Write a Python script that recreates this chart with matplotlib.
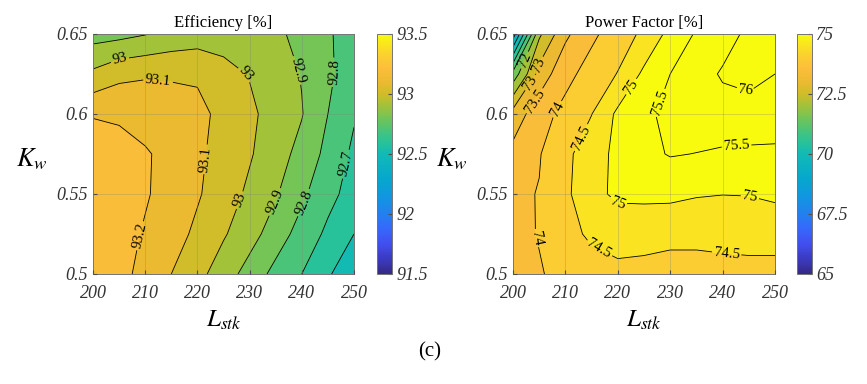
import numpy as np
import matplotlib
matplotlib.use('Agg')
import matplotlib.pyplot as plt
from matplotlib.colors import LinearSegmentedColormap, Normalize
from matplotlib.cm import ScalarMappable

plt.rcParams['font.family'] = ['Liberation Serif', 'DejaVu Serif']
plt.rcParams['mathtext.fontset'] = 'stix'

# grid of stack length and winding factor
L_stk = [200, 205, 210, 215, 220, 225, 230, 235, 240, 245, 250]
K_w = [0.5, 0.525, 0.55, 0.575, 0.6, 0.625, 0.65]

# efficiency [%], rows follow K_w, columns follow L_stk
eff = [
    [93.26, 93.23, 93.17, 93.10, 93.03, 92.95, 92.86, 92.77, 92.70, 92.61, 92.54],
    [93.27, 93.24, 93.19, 93.14, 93.08, 93.01, 92.94, 92.85, 92.76, 92.68, 92.60],
    [93.28, 93.25, 93.21, 93.16, 93.11, 93.05, 92.98, 92.91, 92.82, 92.73, 92.66],
    [93.28, 93.25, 93.21, 93.17, 93.12, 93.06, 93.01, 92.94, 92.87, 92.77, 92.68],
    [93.19, 93.18, 93.16, 93.14, 93.13, 93.07, 93.02, 92.96, 92.905, 92.80, 92.71],
    [93.02, 93.075, 93.09, 93.09, 93.085, 93.03, 92.995, 92.95, 92.895, 92.82, 92.74],
    [92.86, 92.87, 92.895, 92.93, 92.95, 92.96, 92.95, 92.92, 92.87, 92.81, 92.76],
]

# power factor [%]
pf = [
    [73.85, 73.97, 74.12, 74.30, 74.40, 74.38, 74.35, 74.35, 74.37, 74.38, 74.38],
    [73.88, 74.02, 74.35, 74.58, 74.66, 74.64, 74.60, 74.60, 74.62, 74.64, 74.64],
    [73.90, 74.02, 74.40, 74.85, 75.10, 75.12, 75.12, 75.04, 75.01, 75.02, 75.10],
    [73.65, 73.97, 74.38, 74.78, 75.12, 75.38, 75.53, 75.49, 75.43, 75.40, 75.38],
    [73.20, 73.80, 74.15, 74.49, 75.10, 75.38, 75.65, 75.78, 75.82, 75.85, 75.85],
    [71.67, 73.20, 73.85, 74.20, 74.52, 75.10, 75.50, 75.80, 76.05, 76.12, 76.00],
    [69.20, 72.40, 73.40, 73.90, 74.25, 74.60, 75.15, 75.55, 75.80, 76.10, 76.25],
]

eff_levels = [92.5, 92.6, 92.7, 92.8, 92.9, 93.0, 93.1, 93.2, 93.3]
pf_levels = [69.0, 69.5, 70.0, 70.5, 71.0, 71.5, 72.0, 72.5, 73.0, 73.5,
             74.0, 74.5, 75.0, 75.5, 76.0, 76.5]

eff_labels = [(205, 0.637), (212.5, 0.622), (229.7, 0.627), (239.9, 0.628),
              (246, 0.626), (209.6, 0.5235), (222, 0.5715), (227.8, 0.5465),
              (233.8, 0.5465), (239, 0.5465), (247.9, 0.569)]
pf_labels = [(202.7, 0.633), (204.6, 0.631), (203.3, 0.6196), (204.6, 0.6072),
             (208.4, 0.603), (212.2, 0.5865), (222.4, 0.6175), (227.8, 0.6072),
             (244.6, 0.6165), (242.7, 0.5782), (219.8, 0.542), (245.2, 0.5482),
             (204.3, 0.5223), (216, 0.513), (240.8, 0.514)]

parula = LinearSegmentedColormap.from_list('parula', [
    (0.000, (0.2081, 0.1663, 0.5292)),
    (0.063, (0.2300, 0.2300, 0.7600)),
    (0.125, (0.2600, 0.3100, 0.9400)),
    (0.190, (0.2100, 0.4100, 0.9900)),
    (0.254, (0.1300, 0.5100, 0.9300)),
    (0.333, (0.0600, 0.6000, 0.8700)),
    (0.400, (0.0200, 0.6600, 0.8000)),
    (0.500, (0.0700, 0.7300, 0.7100)),
    (0.550, (0.1600, 0.7600, 0.6000)),
    (0.600, (0.2900, 0.7700, 0.4700)),
    (0.650, (0.4500, 0.7700, 0.3400)),
    (0.700, (0.6300, 0.7600, 0.2300)),
    (0.750, (0.8100, 0.7400, 0.1600)),
    (0.800, (0.9200, 0.7300, 0.1900)),
    (0.860, (0.9900, 0.7450, 0.2300)),
    (0.920, (0.9800, 0.8300, 0.1800)),
    (1.000, (0.9763, 0.9831, 0.0538)),
])

fig = plt.figure(figsize=(8.67, 3.84), dpi=100)


def panel(rect, crect, z, levels, vmin, vmax, cticks, title, manual):
    ax = fig.add_axes(rect)
    norm = Normalize(vmin, vmax)
    cols = [parula(norm(v)) for v in levels[:-1]]
    X, Y = np.meshgrid(L_stk, K_w)
    Z = np.array(z)
    ax.contourf(X, Y, Z, levels=levels, colors=cols)
    cs = ax.contour(X, Y, Z, levels=levels, colors='k', linewidths=0.6)
    ax.clabel(cs, fmt='%g', fontsize=10.5, inline=True, inline_spacing=2,
              manual=manual)
    ax.set_xlim(200, 250)
    ax.set_ylim(0.5, 0.65)
    ax.set_xticks([200, 210, 220, 230, 240, 250])
    ax.set_xticklabels(['200', '210', '220', '230', '240', '250'],
                       fontstyle='italic', fontsize=13)
    ax.set_yticks([0.5, 0.55, 0.6, 0.65])
    ax.set_yticklabels(['0.5', '0.55', '0.6', '0.65'],
                       fontstyle='italic', fontsize=13)
    ax.tick_params(direction='in', length=3, color='0.3', labelcolor='0.2')
    ax.tick_params(axis='x', pad=8)
    ax.tick_params(axis='y', pad=4)
    ax.set_axisbelow(False)
    ax.grid(True, color='0.5', alpha=0.35, linewidth=0.6)
    for s in ax.spines.values():
        s.set_color('0.45')
        s.set_linewidth(0.7)
    ax.set_title(title, fontsize=12, pad=5)
    ax.set_xlabel(r'$L_{stk}$', fontsize=18)
    ax.xaxis.set_label_coords(0.5, -0.145)
    ax.set_ylabel(r'$K_w$', fontsize=19, rotation=0, va='center', ha='center')
    ax.yaxis.set_label_coords(-0.235, 0.48)

    cax = fig.add_axes(crect)
    cb = fig.colorbar(ScalarMappable(norm=norm, cmap=parula), cax=cax)
    cb.set_ticks(cticks)
    cax.set_yticklabels(['%g' % t for t in cticks], fontstyle='italic',
                        fontsize=13)
    cax.tick_params(direction='in', length=3, color='0.3', labelcolor='0.2', pad=3)
    cb.outline.set_edgecolor('0.45')
    cb.outline.set_linewidth(0.7)
    return ax


panel([0.1073, 0.2865, 0.301, 0.625], [0.4348, 0.2865, 0.0173, 0.625],
      eff, eff_levels, 91.5, 93.5, [91.5, 92, 92.5, 93, 93.5],
      'Efficiency [%]', eff_labels)
panel([0.5917, 0.2865, 0.3022, 0.625], [0.9193, 0.2865, 0.0173, 0.625],
      pf, pf_levels, 65, 75, [65, 67.5, 70, 72.5, 75],
      'Power Factor [%]', pf_labels)

fig.text(0.496, 1 - 352 / 384, '(c)', ha='center', va='center', fontsize=15)

fig.savefig('out.png', dpi=100)
